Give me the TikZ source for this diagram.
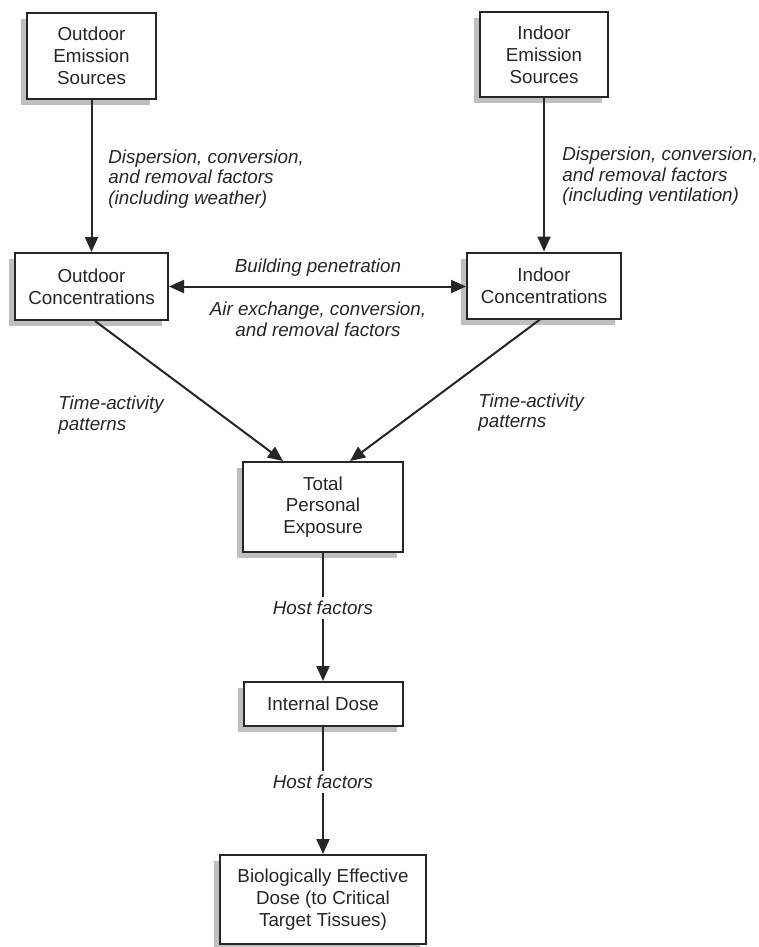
\documentclass[tikz,border=0pt]{standalone}
\usepackage{fontspec}
\setmainfont{Liberation Sans}
\usetikzlibrary{arrows.meta,shadows}
\begin{document}
\begin{tikzpicture}[x=0.5pt,y=-0.5pt,
  box/.style={draw=black!85, line width=1pt, fill=white, align=center,
    inner sep=0pt, text=black!85, font=\fontsize{9.4}{10.9}\selectfont,
    drop shadow={shadow xshift=-3pt, shadow yshift=-3pt, fill=black!25, opacity=1}},
  lbl/.style={font=\fontsize{9.4}{10.3}\selectfont\itshape, text=black!85, inner sep=0pt},
  flow/.style={line width=1pt, draw=black!85, -{Triangle[length=7.5pt,width=6.5pt]}},
  both/.style={line width=1pt, draw=black!85, {Triangle[length=7.5pt,width=6.5pt]}-{Triangle[length=7.5pt,width=6.5pt]}},
  gap/.style={fill=white, inner xsep=1pt, inner ysep=2pt}]
\useasboundingbox (0,0) rectangle (759,947);

% boxes
\node[box, minimum width=64.5pt, minimum height=43pt] (oes) at (91.5,56) {Outdoor\\Emission\\Sources};
\node[box, minimum width=64pt, minimum height=42.5pt] (ies) at (544,54.5) {Indoor\\Emission\\Sources};
\node[box, minimum width=76.5pt, minimum height=33.5pt] (oc) at (91.5,286.5) {Outdoor\\Concentrations};
\node[box, minimum width=77pt, minimum height=33pt] (ic) at (544,285.5) {Indoor\\Concentrations};
\node[box, minimum width=80pt, minimum height=45pt] (tpe) at (323,507) {Total\\Personal\\Exposure};
\node[box, minimum width=79.5pt, minimum height=22pt] (id) at (323,704) {Internal Dose};
\node[box, minimum width=103pt, minimum height=44.5pt] (bed) at (323,899.5) {Biologically Effective\\Dose (to Critical\\Target Tissues)};

% sources to concentrations
\draw[flow] (oes.south) -- (oc.north);
\draw[flow] (ies.south) -- (ic.north);
\node[lbl, anchor=west, align=left] (lo) at (108,179) {Dispersion, conversion,\\and removal factors\\(including weather)};
\node[lbl, anchor=west, align=left] (li) at (562,176.5) {Dispersion, conversion,\\and removal factors\\(including ventilation)};

% exchange between outdoor and indoor
\draw[both] (oc.east) -- (oc.east -| ic.west);
\node[lbl] (bp) at (318,268) {Building penetration};
\node[lbl, align=center] (ax) at (318,319.5) {Air exchange, conversion,\\and removal factors};

% concentrations to exposure
\draw[flow] ([xshift=1.75pt]oc.south) -- ([xshift=-20pt]tpe.north);
\draw[flow] ([xshift=-2pt]ic.south) -- ([xshift=13.5pt]tpe.north);
\node[lbl, anchor=west, align=left] (tl) at (58,415) {Time-activity\\patterns};
\node[lbl, anchor=west, align=left] (tr) at (478,412.5) {Time-activity\\patterns};

% exposure to dose
\draw[flow] (tpe.south) -- node[lbl, gap, pos=0.43] (h1) {Host factors} (tpe.south |- id.north);
\draw[flow] (id.south) -- node[lbl, gap, pos=0.43] (h2) {Host factors} (id.south |- bed.north);
\end{tikzpicture}
\end{document}
